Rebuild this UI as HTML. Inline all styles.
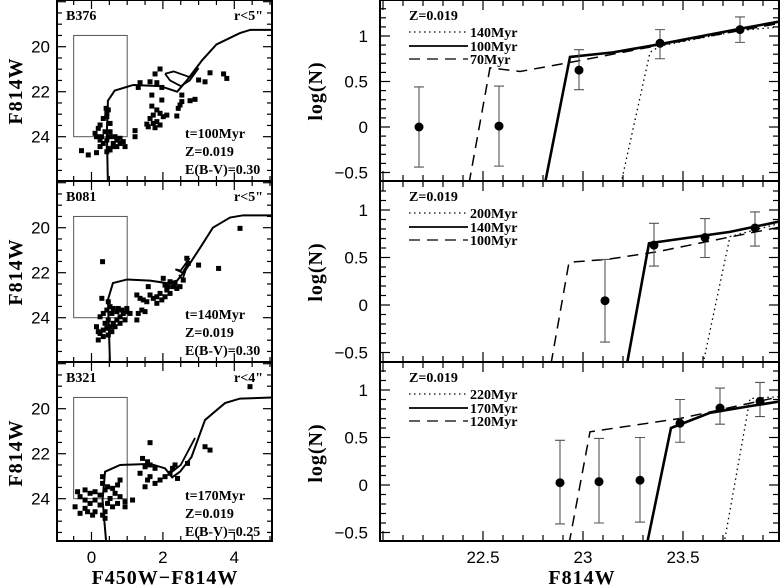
<!DOCTYPE html>
<html><head><meta charset="utf-8"><style>
body{margin:0;background:#fff}
svg{display:block}
text{font-family:"Liberation Serif",serif;fill:#000}
.tk{font-family:"Liberation Sans",sans-serif;font-size:17px}
.ttl{font-family:"Liberation Serif",serif;font-size:20px;font-weight:bold;letter-spacing:1px}
.ann{font-size:14px;font-weight:bold}
</style></head><body>
<svg id="fig" width="780" height="588" viewBox="0 0 780 588"></svg>
<script>
// ---------- DATA ----------
const cmdNames=["B376","B081","B321"];
const cmdRadius=["r<5\"","r<5\"","r<4\""];
const cmdAge=["t=100Myr","t=140Myr","t=170Myr"];
const cmdEbv=["E(B-V)=0.30","E(B-V)=0.30","E(B-V)=0.25"];
const cmdColor1=[-0.28,-0.09,0.14,0.24,0.14,0.10,0.19,0.24,0.33,0.43,0.41,0.47,0.43,0.52,0.24,0.33,0.43,0.52,0.61,0.71,0.80,0.89,0.94,0.61,0.52,0.43,0.47,0.71,0.80,0.38,0.28,0.52,0.66,1.22,1.22,1.36,1.31,1.64,1.83,1.92,1.78,1.97,1.69,1.97,1.69,1.83,1.73,1.64,1.92,2.01,2.11,1.83,1.73,1.59,1.55,1.78,1.92,2.39,2.43,2.48,2.53,2.76,2.90,2.53,3.0,3.18,3.32,3.70,3.79];
const cmdMag1=[24.62,24.81,24.71,24.44,24.0,23.85,23.63,23.48,23.19,23.11,22.74,22.81,22.96,23.41,24.15,24.30,24.15,24.0,24.3,24.15,24.3,24.22,24.44,24.44,24.59,24.67,24.52,24.44,24.07,23.78,24.0,23.78,24.0,23.73,24.0,21.6,21.81,21.56,21.6,20.99,21.21,21.81,22.15,22.37,22.64,22.81,23.04,23.19,22.96,23.11,23.04,23.33,23.41,23.56,23.44,23.6,23.48,23.08,22.74,22.59,22.44,22.4,22.34,22.15,21.48,21.56,21.16,21.21,21.41];
const cmdColor2=[0.31,0.29,0.47,0.52,0.43,0.33,0.24,0.14,0.19,0.24,0.33,0.43,0.52,0.61,0.71,0.80,0.89,0.99,1.08,0.71,0.61,0.57,0.47,0.38,0.57,0.47,0.66,0.80,0.94,0.19,0.33,0.75,0.85,0.99,1.27,1.31,1.41,1.50,1.27,1.36,1.45,1.59,1.64,1.55,1.73,1.83,1.92,1.83,1.97,2.06,2.11,2.15,2.20,2.06,2.01,2.29,2.34,2.39,2.48,2.57,2.20,2.67,3.0,2.71,3.56,4.16];
const cmdMag2=[21.51,23.14,23.29,23.51,23.66,23.81,23.96,24.4,24.62,24.7,24.55,24.47,24.4,24.25,24.1,23.96,23.81,23.73,23.81,23.73,23.59,23.81,24.1,24.25,24.62,24.77,24.4,24.25,24.1,24.99,24.84,23.59,23.66,23.59,24.1,23.81,23.66,23.73,22.99,23.14,23.21,22.62,22.99,23.29,23.14,23.07,22.92,23.36,23.21,23.07,22.77,22.62,22.92,22.55,22.25,22.62,22.47,22.7,22.62,22.33,22.4,21.36,21.66,21.59,21.81,20.03];
const cmdColor3=[-0.39,-0.18,-0.04,0.10,0.24,0.38,0.31,0.45,0.59,0.73,0.80,0.66,0.31,-0.32,-0.18,-0.04,0.10,0.24,0.45,0.52,-0.18,-0.11,0.10,0.31,0.38,0.59,0.73,0.94,1.15,0.94,0.38,0.03,-0.46,-0.32,0.80,1.43,1.57,1.50,1.64,1.78,1.64,1.57,1.50,1.78,1.92,2.06,2.20,2.27,2.34,2.41,2.69,3.18,3.32,1.64,1.36,4.44];
const cmdMag3=[23.69,23.61,23.76,23.69,23.84,23.61,23.32,23.47,23.54,23.39,23.17,23.76,23.02,23.91,24.06,24.21,24.06,24.28,24.21,23.99,24.43,24.58,24.58,24.73,24.58,24.36,24.21,24.13,24.06,24.36,24.87,24.73,24.36,24.65,23.91,22.21,22.36,22.58,22.5,22.65,23.02,23.17,23.47,23.32,23.17,23.02,22.87,22.65,22.5,23.1,22.43,21.69,21.84,21.51,22.87,19.02];
const isoColor1=[0.46,0.43,0.46,0.65,1.17,1.92,2.4,2.67,3.1,3.5,4.15,4.45,5.1];
const isoMag1=[26.1,23.8,22.4,21.95,21.7,21.75,22.0,21.5,20.6,19.9,19.4,19.25,19.25];
const loopColor1=[2.06,2.3,2.75,3.0,2.75,2.5,2.2,2.06];
const loopMag1=[21.2,21.1,21.35,20.95,21.5,21.75,21.5,21.2];
const isoColor2=[0.52,0.46,0.6,1.0,1.64,2.1,2.4,2.67,3.04,3.4,3.88,4.25,5.1];
const isoMag2=[26.1,23.2,22.46,22.3,22.35,22.46,22.35,21.8,20.9,20.0,19.55,19.45,19.45];
const loopColor2=[2.75,2.5,2.35,2.55,2.7,2.55,2.45];
const loopMag2=[21.35,21.9,21.85,22.0,21.6,22.3,22.1];
const isoColor3=[0.42,0.31,0.38,0.8,1.64,2.06,2.26,2.48,2.8,3.18,3.74,4.16,5.1];
const isoMag3=[26.1,24.06,22.8,22.5,22.45,22.65,23.05,22.8,22.15,20.5,19.75,19.55,19.5];
const loopColor3=[2.26,2.5,2.9];
const loopMag3=[22.8,22.5,21.3];
const boxColor=[-0.5,1.0];
const boxMag=[19.5,24.0];

const lfLabels=[["140Myr","100Myr","70Myr"],["200Myr","140Myr","100Myr"],["220Myr","170Myr","120Myr"]];
const obsMag1=[22.18,22.58,22.98,23.385,23.785];
const obsLog1=[0.0,0.01,0.625,0.92,1.07];
const obsHi1=[0.44,0.45,0.85,1.07,1.21];
const obsLo1=[-0.44,-0.43,0.41,0.75,0.93];
const obsMag2=[23.11,23.355,23.61,23.86];
const obsLog2=[0.045,0.63,0.71,0.81];
const obsHi2=[0.48,0.86,0.91,0.98];
const obsLo2=[-0.39,0.41,0.50,0.62];
const obsMag3=[22.885,23.08,23.285,23.485,23.685,23.885];
const obsLog3=[0.024,0.035,0.05,0.65,0.81,0.88];
const obsHi3=[0.47,0.49,0.50,0.90,1.02,1.08];
const obsLo3=[-0.41,-0.40,-0.39,0.45,0.64,0.72];
const dotMag1=[23.19,23.335,23.385,23.785,23.985], dotLog1=[-0.62,0.82,0.89,1.06,1.1];
const solMag1=[22.81,22.935,23.15,23.385,23.785,23.985], solLog1=[-0.62,0.77,0.82,0.91,1.08,1.16];
const dasMag1=[22.43,22.535,22.685,22.935,23.15,23.385,23.985], dasLog1=[-0.62,0.65,0.61,0.71,0.80,0.90,1.14];
const dotMag2=[23.6,23.735,23.985], dotLog2=[-0.62,0.72,0.86];
const solMag2=[23.22,23.33,23.735,23.985], solLog2=[-0.62,0.65,0.77,0.88];
const dasMag2=[22.84,22.93,23.12,23.37,23.65,23.985], dasLog2=[-0.62,0.45,0.48,0.56,0.68,0.82];
const dotMag3=[23.705,23.835,23.985], dotLog3=[-0.62,0.91,0.93];
const solMag3=[23.32,23.44,23.635,23.835,23.985], solLog3=[-0.62,0.60,0.76,0.83,0.88];
const dasMag3=[22.93,23.035,23.485,23.985], dasLog3=[-0.62,0.56,0.70,0.93];
const lfXTicks=[22.5,23,23.5];
const lfYTicks=[1,0.5,0,-0.5];
const cmdXTicks=[0,2,4];
const cmdYTicks=[20,22,24];

// ---------- DRAW ----------
const NS="http://www.w3.org/2000/svg";
const svg=document.getElementById("fig");
function el(tag,attrs,parent,txt){const e=document.createElementNS(NS,tag);for(const k in attrs)e.setAttribute(k,attrs[k]);if(txt!==undefined)e.textContent=txt;(parent||svg).appendChild(e);return e;}
const panelTop=[0,181,362], panelBot=[181,362,541];
const LX0=57,LX1=272;
const cx=c=>91.5+c*35.7;
const cy=(p,m)=>panelTop[p]+46.7+(m-20)*22.5;
const RX0=380,RX1=779;
const rx=v=>583+(v-23)*200;
const rZero=[127,305,485], rScale=[91,95,95];
const ry=(p,v)=>rZero[p]-v*rScale[p];
const isoC=[isoColor1,isoColor2,isoColor3], isoM=[isoMag1,isoMag2,isoMag3];
const loopC=[loopColor1,loopColor2,loopColor3], loopM=[loopMag1,loopMag2,loopMag3];
const ptC=[cmdColor1,cmdColor2,cmdColor3], ptM=[cmdMag1,cmdMag2,cmdMag3];
const oM=[obsMag1,obsMag2,obsMag3],oL=[obsLog1,obsLog2,obsLog3],oH=[obsHi1,obsHi2,obsHi3],oLo=[obsLo1,obsLo2,obsLo3];
const lines=[[[dotMag1,dotLog1],[solMag1,solLog1],[dasMag1,dasLog1]],[[dotMag2,dotLog2],[solMag2,solLog2],[dasMag2,dasLog2]],[[dotMag3,dotLog3],[solMag3,solLog3],[dasMag3,dasLog3]]];
const styles=[{"stroke-width":1.3,"stroke-dasharray":"1.5 3.5"},{"stroke-width":2.6},{"stroke-width":1.5,"stroke-dasharray":"11 7"}];
const styleNames=["dotted","solid","dashed"];

for(let p=0;p<3;p++){
  const t=panelTop[p], b=panelBot[p];
  const defs=el("defs",{});
  const cpL=el("clipPath",{id:"cl"+p},defs); el("rect",{x:LX0,y:t,width:LX1-LX0,height:b-t},cpL);
  const cpR=el("clipPath",{id:"cr"+p},defs); el("rect",{x:RX0,y:t,width:RX1-RX0,height:b-t},cpR);

  const gL=el("g",{});
  
  
  for(let c=-0.5;c<=5.01;c+=0.5){const x=cx(c);const L=(Math.abs(c%2)<0.01)?9:5;
    el("line",{x1:x,y1:b,x2:x,y2:b-L,stroke:"#000","stroke-width":1.2},gL);
    el("line",{x1:x,y1:t,x2:x,y2:t+L,stroke:"#000","stroke-width":1.2},gL);}
  for(let m=18;m<=26.01;m+=0.5){const y=cy(p,m);if(y<t+1||y>b-1)continue;const L=(m%2===0)?9:5;
    el("line",{x1:LX0,y1:y,x2:LX0+L,y2:y,stroke:"#000","stroke-width":1.2},gL);
    el("line",{x1:LX1,y1:y,x2:LX1-L,y2:y,stroke:"#000","stroke-width":1.2},gL);}
  cmdYTicks.forEach(m=>{const tx=el("text",{x:50,y:cy(p,m)+6,"text-anchor":"end",class:"tk"},gL,String(m));
    });
  const box=el("rect",{x:cx(boxColor[0]),y:cy(p,boxMag[0]),width:cx(boxColor[1])-cx(boxColor[0]),height:cy(p,boxMag[1])-cy(p,boxMag[0]),fill:"none",stroke:"#555","stroke-width":1},gL);
  
  const gc=el("g",{"clip-path":"url(#cl"+p+")"},gL);
  const iso=el("polyline",{points:isoC[p].map((c,i)=>cx(c)+","+cy(p,isoM[p][i])).join(" "),fill:"none",stroke:"#000","stroke-width":2},gc);
  
  const lp=el("polyline",{points:loopC[p].map((c,i)=>cx(c)+","+cy(p,loopM[p][i])).join(" "),fill:"none",stroke:"#000","stroke-width":1.8},gc);
  
  ptC[p].forEach((c,i)=>{const r=el("rect",{x:cx(c)-2.5,y:cy(p,ptM[p][i])-2.5,width:5,height:5,fill:"#000"},gc);
    });
  const bd=el("rect",{x:LX0,y:t,width:LX1-LX0,height:b-t,fill:"none",stroke:"#000","stroke-width":2},gL);
  
  let a=el("text",{x:66,y:t+20,class:"ann","font-size":"15px"},gL,cmdNames[p]);
  a=el("text",{x:263,y:t+20,class:"ann","text-anchor":"end","font-size":"15px"},gL,cmdRadius[p]);
  a=el("text",{x:185,y:t+138,class:"ann"},gL,cmdAge[p]);
  a=el("text",{x:185,y:t+156,class:"ann"},gL,"Z=0.019");
  a=el("text",{x:185,y:t+174,class:"ann"},gL,cmdEbv[p]);
  a=el("text",{x:0,y:0,class:"ttl","text-anchor":"middle",transform:"translate(22,"+(t+91)+") rotate(-90)"},gL,"F814W");
  

  const gR=el("g",{});
  
  
  for(let k=0;k<=20;k++){const v=22+k*0.1;const x=rx(v);if(x<RX0+2||x>RX1-2)continue;const L=(Math.abs(v*2-Math.round(v*2))<0.01)?10:6;
    el("line",{x1:x,y1:b,x2:x,y2:b-L,stroke:"#000","stroke-width":1.2},gR);
    el("line",{x1:x,y1:t,x2:x,y2:t+L,stroke:"#000","stroke-width":1.2},gR);}
  for(let k=-6;k<=14;k++){const v=k*0.1;const y=ry(p,v);if(y<t+2||y>b-2)continue;const L=(k%5===0)?10:6;
    el("line",{x1:RX0,y1:y,x2:RX0+L,y2:y,stroke:"#000","stroke-width":1.2},gR);
    el("line",{x1:RX1,y1:y,x2:RX1-L,y2:y,stroke:"#000","stroke-width":1.2},gR);}
  lfYTicks.forEach(v=>{const tx=el("text",{x:368,y:ry(p,v)+6,"text-anchor":"end",class:"tk"},gR,v<0?"\u2212"+Math.abs(v):String(v));
    });
  const gr=el("g",{"clip-path":"url(#cr"+p+")"},gR);
  lines[p].forEach((ln,j)=>{const pl=el("polyline",Object.assign({points:ln[0].map((m,i)=>rx(m)+","+ry(p,ln[1][i])).join(" "),fill:"none",stroke:"#000"},styles[j]),gr);
    });
  oM[p].forEach((m,i)=>{const x=rx(m);
    const e=el("path",{d:"M"+x+" "+ry(p,oH[p][i])+"V"+ry(p,oLo[p][i])+"M"+(x-5)+" "+ry(p,oH[p][i])+"h10M"+(x-5)+" "+ry(p,oLo[p][i])+"h10",stroke:"#555","stroke-width":1.1,fill:"none"},gr);
    
    const c=el("circle",{cx:x,cy:ry(p,oL[p][i]),r:4.5,fill:"#000"},gr);
    });
  const bd2=el("rect",{x:RX0,y:t,width:RX1-RX0,height:b-t,fill:"none",stroke:"#000","stroke-width":2},gR);
  
  const lg=el("g",{},gR);
  
  const ly=[t+20,t+37,t+51,t+64];
  el("text",{x:409,y:ly[0],class:"ann","font-size":"14px"},lg,"Z=0.019");
  for(let j=0;j<3;j++){
    const ll=el("line",Object.assign({x1:409,y1:ly[j+1]-5,x2:468,y2:ly[j+1]-5,stroke:"#000"},styles[j],{"stroke-width":j===1?1.8:1.3}),lg);
    
    const tx=el("text",{x:470,y:ly[j+1],class:"ann","font-size":"15px"},lg,lfLabels[p][j]);
    
  }
  const yt=el("text",{x:0,y:0,class:"ttl","text-anchor":"middle","font-size":"18px",transform:"translate(322,"+(t+91)+") rotate(-90)"},gR,"log(N)");
  
}
cmdXTicks.forEach(c=>{const tx=el("text",{x:cx(c),y:563,"text-anchor":"middle",class:"tk"},svg,String(c));
  });
lfXTicks.forEach(v=>{const tx=el("text",{x:rx(v),y:563,"text-anchor":"middle",class:"tk"},svg,String(v));
  });
let xt=el("text",{x:165,y:584,"text-anchor":"middle",class:"ttl","font-size":"17px","letter-spacing":"0.5px"},svg,"F450W\u2212F814W");

xt=el("text",{x:582,y:584,"text-anchor":"middle",class:"ttl","font-size":"17px","letter-spacing":"0.5px"},svg,"F814W");

</script>
</body></html>
